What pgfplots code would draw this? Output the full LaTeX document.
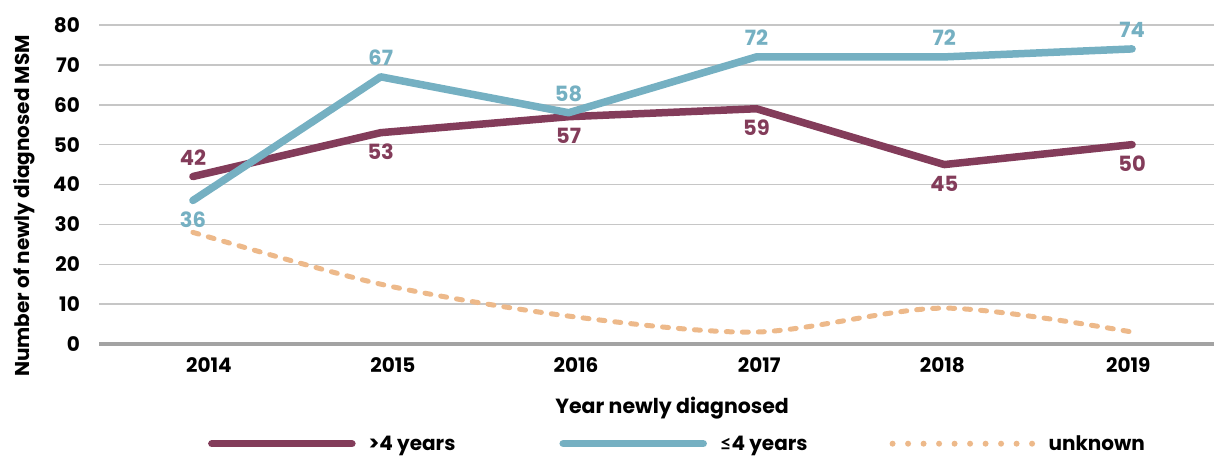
\documentclass[border=0pt]{standalone}
\usepackage{fontspec}
\setmainfont{Poppins}
\newfontfamily\latofont{Lato}
\usepackage{pgfplots}
\usepackage{pgfplotstable}
\pgfplotsset{compat=1.18}
\definecolor{cMaroon}{HTML}{833C5A}
\definecolor{cBlue}{HTML}{75B0C2}
\definecolor{cOrange}{HTML}{EDB98A}
\definecolor{cGrid}{HTML}{C6C6C6}
\definecolor{cAxis}{HTML}{A3A3A3}
\pgfplotstableread{
x y
0 42
1 53
2 57
3 59
4 45
5 50
}\gtfour
\pgfplotstableread{
x y
0 36
1 67
2 58
3 72
4 72
5 74
}\lefour
\pgfplotstableread{
x y
0 28
1 15
2 7
3 3
4 9
5 3
}\unknown
\begin{document}
\begin{tikzpicture}
\begin{axis}[
  at={(99bp,113bp)}, anchor=south west,
  scale only axis, width=1115bp, height=319bp,
  xmin=-0.5, xmax=5.436, ymin=0, ymax=80,
  xtick={0.085,1.065,2.04,3.015,3.99,4.98}, xticklabels={2014,2015,2016,2017,2018,2019},
  ytick={0,10,...,80},
  axis line style={draw=none},
  major tick length=0pt,
  ymajorgrids, grid style={color=cGrid, line width=1.5bp},
  extra y ticks={0}, extra y tick labels={},
  extra y tick style={grid style={color=cAxis, line width=4bp}},
  tick label style={font=\fontsize{20bp}{24bp}\selectfont\bfseries, inner sep=0pt},
  yticklabel style={anchor=east, xshift=-19bp},
  xticklabel style={anchor=north, yshift=-13bp},
  /pgf/number format/assume math mode=true,
  /pgf/number format/1000 sep={},
  xlabel={Year newly diagnosed},
  xlabel style={at={(axis description cs:0.514,-0.219)}, anchor=base, inner sep=0pt, font=\fontsize{20.5bp}{24bp}\selectfont\bfseries},
  ylabel={Number of newly diagnosed MSM},
  ylabel style={at={(axis description cs:-0.0771,0.433)}, anchor=north, inner sep=0pt, font=\fontsize{20bp}{24bp}\selectfont\bfseries},
  clip=false,
  legend columns=3,
  legend style={draw=none, fill=none, at={(axis description cs:0.095,-0.3125)}, anchor=west,
    font=\fontsize{20bp}{24bp}\selectfont\bfseries,
    /tikz/every odd column/.append style={column sep=11bp},
    /tikz/column 2/.style={column sep=102bp},
    /tikz/column 4/.style={column sep=80bp}},
  legend cell align=left,
  lbl/.style={draw=none, forget plot, nodes near coords, point meta=y,
    every node near coord/.append style={inner sep=11bp, font=\fontsize{21bp}{24bp}\selectfont\bfseries}},
]
\addplot[cMaroon, line width=7.5bp, line cap=round, line join=round,
  legend image code/.code={\draw[cMaroon, line width=7.5bp, line cap=round] (0bp,0bp) -- (140bp,0bp);}]
  table[x=x,y=y] {\gtfour};
\addlegendentry{>4 years}
\addplot[cBlue, line width=7.5bp, line cap=round, line join=round,
  legend image code/.code={\draw[cBlue, line width=7.5bp, line cap=round] (0bp,0bp) -- (140bp,0bp);}]
  table[x=x,y=y] {\lefour};
\addlegendentry{{\latofont\bfseries ≤}4 years}
\addplot[cOrange, line width=5bp, line cap=round, smooth, dash pattern=on 6bp off 10bp,
  legend image code/.code={\draw[cOrange, line width=6bp, line cap=round, dash pattern=on 0bp off 15.5bp] (0bp,0bp) -- (140bp,0bp);}]
  table[x=x,y=y] {\unknown};
\addlegendentry{unknown}
% data labels
\addplot[lbl, every node near coord/.append style={anchor=south, text=cMaroon}, skip coords between index={1}{6}] table[x=x,y=y] {\gtfour};
\addplot[lbl, every node near coord/.append style={anchor=north, text=cMaroon}, skip coords between index={0}{1}] table[x=x,y=y] {\gtfour};
\addplot[lbl, every node near coord/.append style={anchor=north, text=cBlue}, skip coords between index={1}{6}] table[x=x,y=y] {\lefour};
\addplot[lbl, every node near coord/.append style={anchor=south, text=cBlue}, skip coords between index={0}{1}] table[x=x,y=y] {\lefour};
\end{axis}
\pgfresetboundingbox
\useasboundingbox (0,0) rectangle (1214bp,457bp);
\end{tikzpicture}
\end{document}
